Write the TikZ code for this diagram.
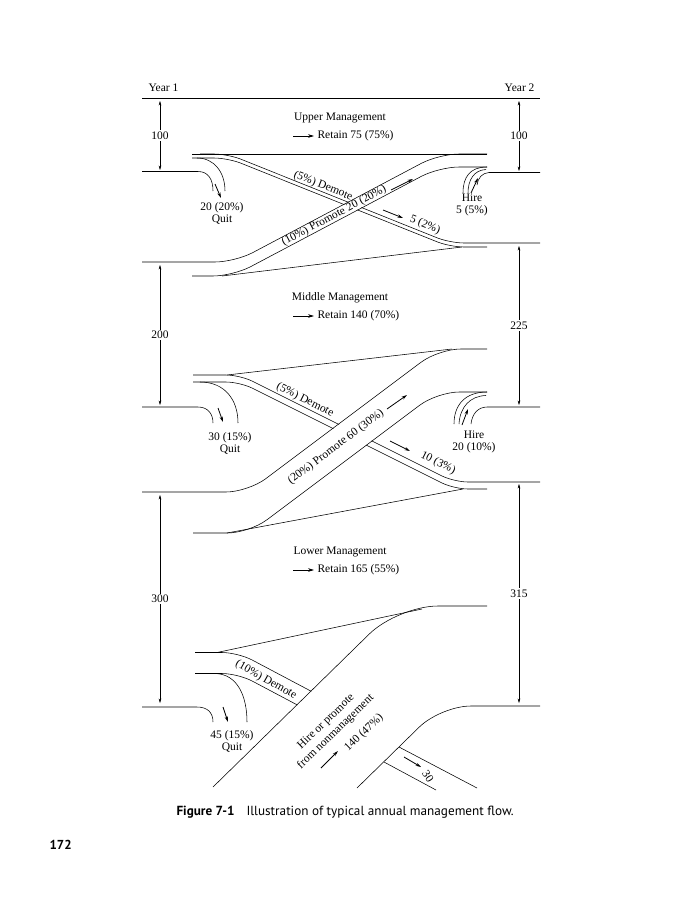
\documentclass[tikz,border=0pt]{standalone}
\usepackage{fontspec}
\setmainfont{Liberation Serif}
\newfontfamily\capfont{PT Sans}
\usetikzlibrary{arrows.meta}

\begin{document}
\begin{tikzpicture}[
  x=1pt, y=-1pt,
  font=\fontsize{11.5}{12}\selectfont,
  ribbon/.style={line width=0.55pt},
  sweep/.style={line width=0.55pt},
  dimline/.style={{Stealth[length=4.5pt,width=2.6pt]}-{Stealth[length=4.5pt,width=2.6pt]}, line width=0.4pt},
  cnt/.style={fill=white, inner sep=1.2pt},
  gofwd/.style={-{Stealth[length=6pt,width=3.6pt]}, line width=0.7pt},
  smallarr/.style={-{Stealth[length=5.5pt,width=3.2pt]}, line width=0.8pt}
]
  \fill[white] (0,0) rectangle (680,900);
  \useasboundingbox (0,0) rectangle (680,900);

  % year axis
  \draw[line width=0.8pt] (142,98) -- (540,98);
  \node[anchor=west] (yr1) at (145,88) {Year 1};
  \node[anchor=east] (yr2) at (538,88) {Year 2};

  % head counts
  \foreach \x/\ya/\yb/\n [count=\i] in {160/101/170/100, 519/101/171/100,
      160/265/405/200, 519/246/405/225, 160/495/703/300, 519/484/703/315} {
    \coordinate (d\i a) at (\x,\ya);
    \coordinate (d\i b) at (\x,\yb);
    \draw[dimline] (d\i a) -- node[cnt] (c\i) {\n} (d\i b);
  }

  % section titles
  \node (tup)  at (340,118) {Upper Management};
  \node[anchor=west] (rup)  at (314,136) {Retain 75 (75\%)};
  \node (tmid) at (340,298) {Middle Management};
  \node[anchor=west] (rmid) at (314,316) {Retain 140 (70\%)};
  \node (tlow) at (340,552) {Lower Management};
  \node[anchor=west] (rlow) at (314,570) {Retain 165 (55\%)};
  \coordinate (aup)  at (293,136);
  \coordinate (amid) at (293,316);
  \coordinate (alow) at (293,570);
  \draw[gofwd] (aup)  -- (rup.west);
  \draw[gofwd] (amid) -- (rmid.west);
  \draw[gofwd] (alow) -- (rlow.west);

  % demote upper -> middle
  \draw[ribbon, rounded corners=14pt] (200,154) -- (228,154) -- (450,243) -- (540,243);
  \draw[ribbon, rounded corners=14pt] (192,158) -- (228,158) -- (450,247) -- (487,247);
  % demote middle -> lower
  \draw[ribbon, rounded corners=14pt] (193,375) -- (240,375) -- (454,482) -- (540,482);
  \draw[ribbon, rounded corners=14pt] (193,382) -- (240,382) -- (454,489) -- (487,489);

  % promote ribbons lie over the demote ones
  \fill[white] (300,228.3) -- (420,164.8) -- (420,176.4) -- (300,239.9) -- cycle;
  \fill[white] (300,453.8) -- (420,363.8) -- (420,404.2) -- (300,494.2) -- cycle;
  \draw[ribbon, rounded corners=20pt] (142,262) -- (235,262) -- (439,154) -- (487,154);
  \draw[ribbon, rounded corners=20pt] (192,276) -- (233,276) -- (439,167) -- (487,167);
  \draw[ribbon, rounded corners=22pt] (142,492) -- (248,492) -- (438.7,349) -- (487,349);
  \draw[ribbon, rounded corners=22pt] (193,533) -- (249.3,533) -- (437.3,392) -- (487,392);

  % retained
  \draw[ribbon] (192,154) -- (487,154);
  \draw[ribbon] (222,276) -- (462,247);
  \draw[ribbon] (227,375) -- (452,349);
  \draw[ribbon] (227,533) -- (463,489);
  \draw[ribbon] (217,652.5) -- (422,609);

  % lower: demote out, hire in
  \draw[ribbon, rounded corners=16pt] (195,652.5) -- (238,652.5) -- (311.3,691.3);
  \draw[ribbon, rounded corners=16pt] (195,673.5) -- (238,673.5) -- (297.4,705);
  \draw[ribbon, rounded corners=40pt] (213,787) -- (397.9,606) -- (487,606);
  \draw[ribbon, rounded corners=30pt] (357,788) -- (440.8,706) -- (540,706);
  \draw[ribbon] (399,747) -- (477,788);
  \draw[ribbon] (384,762) -- (436,790);

  % quit
  \draw[sweep] (197,158) .. controls (214,158) and (225,172) .. (225,191);
  \draw[sweep] (142,171.5) -- (198,171.5) .. controls (208,171.5) and (213,179) .. (213,191);
  \draw[sweep] (200,382) .. controls (225,382) and (238,400) .. (238,423);
  \draw[sweep] (142,407) -- (198,407) .. controls (208,407) and (213,414) .. (213,423);
  \draw[sweep] (215,673.5) .. controls (238,674) and (247,697) .. (247,722);
  \draw[sweep] (142,707) -- (197,707) .. controls (208,707) and (213,713) .. (213,722);

  % hire
  \draw[sweep] (487,167) .. controls (470,167) and (463,177) .. (463,193);
  \draw[sweep] (486,169.5) .. controls (474,170) and (468,180) .. (468,193);
  \draw[sweep] (540,172.5) -- (489,172.5) .. controls (482,173) and (478,178) .. (477,185);
  \draw[sweep] (487,392) .. controls (465,392) and (454,405) .. (454,424);
  \draw[sweep] (486,395.5) .. controls (470,396) and (460,407) .. (459,424);
  \draw[sweep] (540,407) -- (487,407) .. controls (478,407) and (472,414) .. (471,424);

  % small flow arrows
  \draw[smallarr] (215,184) -- (221,198);
  \draw[smallarr] (218,408) -- (223,422);
  \draw[smallarr] (223,707) -- (228,722);
  \draw[smallarr] (471,193) -- (478,178);
  \draw[smallarr] (462,425) -- (468,409);
  \draw[smallarr] (383,210) -- (403,218);
  \draw[smallarr] (391,190) -- (413,179);
  \draw[smallarr] (390,441) -- (410,451);
  \draw[smallarr] (387,409) -- (407,395);
  \draw[smallarr] (321,768) -- (338,751);
  \draw[smallarr] (404,757) -- (421,767);

  % flow labels
  \node[align=center] (qup)  at (222,213) {20 (20\%)\\Quit};
  \node[align=center] (hup)  at (472,205) {Hire\\5 (5\%)};
  \node[rotate=-21.8] (dup)  at (323,186) {(5\%) Demote};
  \node[rotate=-21.8] (dupn) at (425,225) {5 (2\%)};
  \node[rotate=27.9]  (pup)  at (334,216) {(10\%) Promote 20 (20\%)};
  \node[align=center] (qmid) at (230,443) {30 (15\%)\\Quit};
  \node[align=center] (hmid) at (474,442) {Hire\\20 (10\%)};
  \node[rotate=-26.6] (dmid) at (305,400) {(5\%) Demote};
  \node[rotate=-26.6] (dmidn) at (438,463) {10 (3\%)};
  \node[rotate=36.9]  (pmid) at (336,447) {(20\%) Promote 60 (30\%)};
  \node[align=center] (qlow) at (232,741) {45 (15\%)\\Quit};
  \node[rotate=-29]   (dlow) at (266,680) {(10\%) Demote};
  \node[rotate=44, align=center, font=\fontsize{11.5}{14}\selectfont] (hlow) at (331,727)
    {Hire or promote\\from nonmanagement};
  \node[rotate=44]    (hlown) at (364,733) {140 (47\%)};
  \node[rotate=-57]   (olow) at (428,776) {30};

  % caption
  \node[anchor=west, font=\capfont\fontsize{13.2}{15}\selectfont] (cap) at (173,812)
    {\textbf{Figure 7-1}\hspace{12pt}Illustration of typical annual management flow.};
  \node[anchor=west, font=\capfont\bfseries\fontsize{13}{15}\selectfont] (pg) at (46,845) {172};
\end{tikzpicture}
\end{document}
